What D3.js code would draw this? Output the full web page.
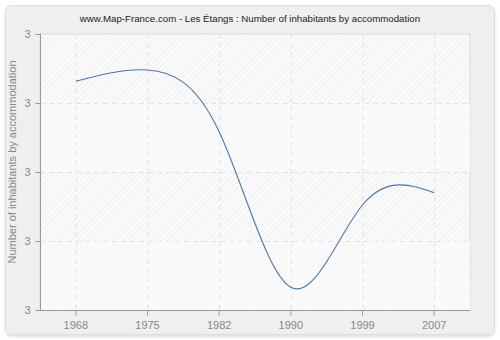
<!DOCTYPE html>
<html><head><meta charset="utf-8">
<script src="https://cdn.jsdelivr.net/npm/d3@7"></script>
<style>body{margin:0;background:#fff}svg{display:block;font-family:"Liberation Sans",Arial,sans-serif}</style>
</head><body>
<svg id="c" width="500" height="340"></svg>
<script>
const years = ["1968","1975","1982","1990","1999","2007"];
const values = [3.0657, 3.0739, 3.0292, 2.9165, 2.9761, 2.9850];
const yTicks = [2.9, 2.95, 3.0, 3.05, 3.1];
const title = "www.Map-France.com - Les Étangs : Number of inhabitants by accommodation";
const yTitle = "Number of inhabitants by accommodation";

const svg = d3.select("#c");
const W = 500, H = 340;
const m = {l:40, r:30, t:34, b:30};
const x0 = m.l, x1 = W - m.r, y0 = m.t, y1 = H - m.b;
const FONT = "Liberation Sans, Arial, sans-serif";

const defs = svg.append("defs");
const f = defs.append("filter").attr("id","sh").attr("x","-5%").attr("y","-5%").attr("width","110%").attr("height","115%");
f.append("feDropShadow").attr("dx",0).attr("dy",2).attr("stdDeviation",1.5).attr("flood-color","#000").attr("flood-opacity",0.12);
const pat = defs.append("pattern").attr("id","hatch").attr("patternUnits","userSpaceOnUse")
  .attr("width",4).attr("height",4).attr("patternTransform","rotate(45)");
pat.append("rect").attr("width",4).attr("height",4).attr("fill","#fafafa");
pat.append("line").attr("x1",0).attr("y1",0).attr("x2",0).attr("y2",4).attr("stroke","#e9e9e9").attr("stroke-width",1.1);

svg.append("rect").attr("x",5.5).attr("y",5.5).attr("width",489).attr("height",329).attr("rx",6)
  .attr("fill","#efefef").attr("stroke","#dedede").attr("filter","url(#sh)");

const x = d3.scaleBand().domain(years).range([x0, x1]);
const y = d3.scaleLinear().domain([2.9, 3.1]).range([y1, y0]);
const cx = d => x(d) + x.bandwidth()/2;

svg.append("rect").attr("x",x0).attr("y",y0).attr("width",x1-x0).attr("height",y1-y0)
  .attr("fill","url(#hatch)").attr("stroke","#dcdcdc");
const bands = d3.pairs(yTicks).filter((p,i)=> i%2===0);
svg.append("g").selectAll("rect").data(bands).join("rect")
  .attr("x",x0).attr("width",x1-x0)
  .attr("y",d=>y(d[1])).attr("height",d=>y(d[0])-y(d[1]))
  .attr("fill","#fbfbfb").attr("opacity",0.65);

const g = svg.append("g").attr("stroke","#e2e2e2").attr("stroke-dasharray","5,4");
g.selectAll(".v").data(years).join("line").attr("x1",d=>cx(d)+0.5).attr("x2",d=>cx(d)+0.5).attr("y1",y0).attr("y2",y1);
g.selectAll(".h").data(yTicks.slice(1,-1)).join("line").attr("x1",x0).attr("x2",x1).attr("y1",d=>Math.round(y(d))+0.5).attr("y2",d=>Math.round(y(d))+0.5);

const ax = svg.append("g").attr("transform",`translate(0,${y1+0.5})`)
  .call(d3.axisBottom(x).tickSize(5).tickSizeOuter(0).tickPadding(6));
const ay = svg.append("g").attr("transform",`translate(${x0+0.5},0)`)
  .call(d3.axisLeft(y).tickValues(yTicks).tickFormat(d3.format(".0f")).tickSize(5).tickSizeOuter(0).tickPadding(5));
[ax, ay].forEach(a => {
  a.select(".domain").attr("stroke","#999");
  a.selectAll(".tick line").attr("stroke","#999");
  a.selectAll("text").attr("fill","#888").attr("font-size",11).attr("font-family",FONT);
});
ay.select(".domain").attr("d",`M0,${y0-0.5}V${y1}`);
ax.select(".domain").attr("d",`M${x0},0H${x1}`);

const line = d3.line().x((d,i)=>cx(years[i])).y(d=>y(d)).curve(d3.curveNatural);
svg.append("path").datum(values).attr("d",line).attr("fill","none").attr("stroke","#4a76ad").attr("stroke-width",1.1);

svg.append("text").attr("x",250).attr("y",22).attr("text-anchor","middle").attr("font-size",9.7)
  .attr("font-family",FONT).attr("fill","#222").text(title);
svg.append("text").attr("transform",`translate(16,162) rotate(-90)`).attr("text-anchor","middle")
  .attr("font-size",11).attr("font-family",FONT).attr("fill","#888").text(yTitle);
</script>
</body></html>
